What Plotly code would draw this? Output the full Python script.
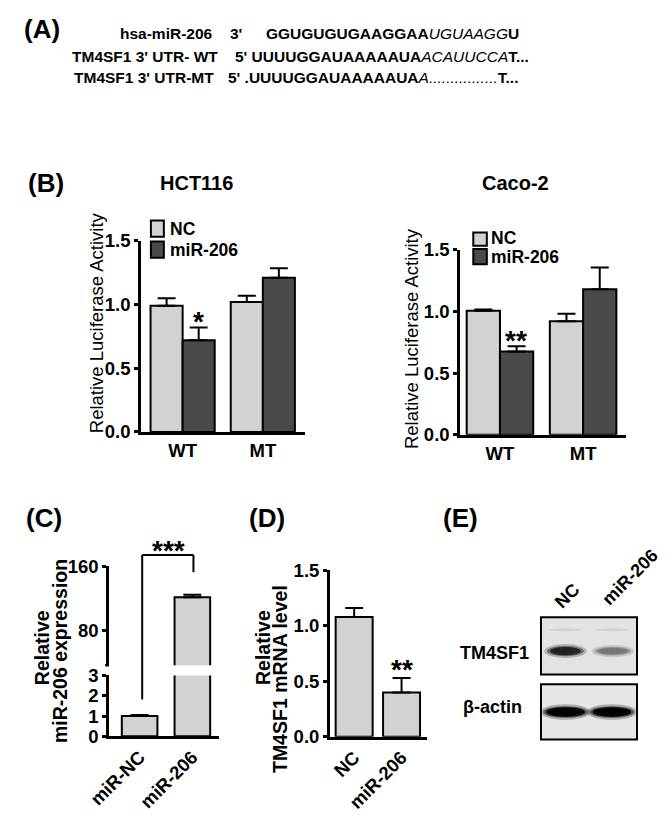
import plotly.graph_objects as go

W, H = 666, 817
def X(p): return p / W
def Y(p): return 1 - p / H

FONT = "Liberation Sans, Arial, sans-serif"
NC_COLOR = "#d2d2d2"
MIR_COLOR = "#4a4a4a"

# ---------------- data ----------------
groups_B = ["WT", "MT"]
hct_nc = [0.99, 1.02]
hct_nc_err = [0.06, 0.05]
hct_mir = [0.72, 1.21]
hct_mir_err = [0.10, 0.075]

caco_nc = [1.005, 0.92]
caco_nc_err = [0.01, 0.06]
caco_mir = [0.676, 1.18]
caco_mir_err = [0.042, 0.175]

cats_C = ["miR-NC", "miR-206"]
vals_C = [1.0, 121.2]
err_C = [0.05, 3.3]

cats_D = ["NC", "miR-206"]
vals_D = [1.08, 0.40]
err_D = [0.08, 0.13]

blot_lanes = ["NC", "miR-206"]
tm4sf1_intensity = [0.85, 0.45]
actin_intensity = [1.0, 1.0]

fig = go.Figure()

def eb(arr):
    return dict(type="data", array=arr, arrayminus=[0] * len(arr), symmetric=False,
                thickness=2, width=9, color="black")

line = dict(color="black", width=2)

# Panel B left
fig.add_trace(go.Bar(x=groups_B, y=hct_nc, error_y=eb(hct_nc_err), marker=dict(color=NC_COLOR, line=line),
                     offset=-0.4, width=0.4, xaxis="x", yaxis="y", name="NC"))
fig.add_trace(go.Bar(x=groups_B, y=hct_mir, error_y=eb(hct_mir_err), marker=dict(color=MIR_COLOR, line=line),
                     offset=0.0, width=0.4, xaxis="x", yaxis="y", name="miR-206"))
# Panel B right
fig.add_trace(go.Bar(x=groups_B, y=caco_nc, error_y=eb(caco_nc_err), marker=dict(color=NC_COLOR, line=line),
                     offset=-0.4, width=0.4, xaxis="x2", yaxis="y2", name="NC"))
fig.add_trace(go.Bar(x=groups_B, y=caco_mir, error_y=eb(caco_mir_err), marker=dict(color=MIR_COLOR, line=line),
                     offset=0.0, width=0.4, xaxis="x2", yaxis="y2", name="miR-206"))
# Panel C (broken axis: lower + upper)
fig.add_trace(go.Bar(x=cats_C, y=vals_C, error_y=eb(err_C), marker=dict(color=NC_COLOR, line=line),
                     width=0.675, xaxis="x3", yaxis="y3"))
fig.add_trace(go.Bar(x=cats_C, y=vals_C, error_y=eb(err_C), marker=dict(color=NC_COLOR, line=line),
                     width=0.675, xaxis="x3", yaxis="y4"))
# Panel D
fig.add_trace(go.Bar(x=cats_D, y=vals_D, error_y=eb(err_D), marker=dict(color=NC_COLOR, line=line),
                     width=0.78, xaxis="x5", yaxis="y5"))

tickfont = dict(family=FONT, size=18.5, color="black", weight="bold")
yax = dict(showline=True, linewidth=2.5, linecolor="black", ticks="outside", ticklen=4, tickwidth=2.5,
           tickcolor="black", showgrid=False, zeroline=False, tickfont=tickfont, fixedrange=True)
xax = dict(showline=True, linewidth=2.5, linecolor="black", ticks="", showgrid=False, zeroline=False,
           tickfont=tickfont, type="category", fixedrange=True)

fig.update_layout(
    width=W, height=H, margin=dict(l=0, r=0, t=0, b=0),
    paper_bgcolor="white", plot_bgcolor="rgba(0,0,0,0)",
    showlegend=False, barmode="group", font=dict(family=FONT, color="black"),
    xaxis=dict(xax, domain=[X(123), X(293)], range=[-0.52, 1.53], anchor="y"),
    yaxis=dict(yax, domain=[Y(432), Y(236)], range=[0, 1.5], dtick=0.5, tickformat=".1f", anchor="x"),
    xaxis2=dict(xax, domain=[X(453), X(625)], range=[-0.48, 1.52], anchor="y2"),
    yaxis2=dict(yax, domain=[Y(435), Y(245)], range=[0, 1.5], dtick=0.5, tickformat=".1f", anchor="x2"),
    xaxis3=dict(xax, domain=[X(90), X(204)], range=[-0.58, 1.51], anchor="y3", tickangle=-45),
    yaxis3=dict(yax, domain=[Y(744.5), Y(682)], range=[0, 3], tickvals=[0, 1, 2, 3], anchor="x3"),
    yaxis4=dict(yax, domain=[Y(671.5), Y(570)], range=[36, 160], tickvals=[80, 160], anchor="x3"),
    xaxis5=dict(xax, domain=[X(318.3), X(419)], range=[-0.514, 1.54], anchor="y5", tickangle=-45),
    yaxis5=dict(yax, domain=[Y(745), Y(574)], range=[0, 1.5], dtick=0.5, tickformat=".1f", anchor="x5"),
)

ann = []
def A(text, x, y, size, bold=True, xanchor="center", angle=0, yanchor="middle", pad=1):
    ann.append(dict(text=text, x=X(x), y=Y(y), xref="paper", yref="paper", showarrow=False,
                    xanchor=xanchor, yanchor=yanchor, textangle=angle, borderpad=pad,
                    font=dict(family=FONT, size=size, color="black", weight="bold" if bold else "normal")))

# Panel labels
A("(A)", 21, 18, 26)
A("(B)", 25, 177, 26)
A("(C)", 23, 520, 26)
A("(D)", 253, 520, 26)
A("(E)", 453, 520, 26)

# Panel A sequences
A("hsa-miR-206", 200, 23, 15.5, xanchor="right")
A("3'", 213, 23, 15.5, xanchor="left")
A("<b>GGUGUGUGAAGGAA</b><i>UGUAAGG</i><b>U</b>", 250, 23, 15.5, bold=False, xanchor="left")
A("TM4SF1 3' UTR- WT", 205, 47, 15.5, xanchor="right")
A("<b>5' UUUUGGAUAAAAAUA</b><i>ACAUUCCA</i><b>T...</b>", 218, 47, 15.5, bold=False, xanchor="left")
A("TM4SF1 3' UTR-MT", 201, 68, 15.5, xanchor="right")
A("<b>5' .UUUUGGAUAAAAAUA</b><i>A................</i><b>T...</b>", 211, 68, 15.5, bold=False, xanchor="left")

# Panel B titles & axis titles
A("HCT116", 180, 177, 20)
A("Caco-2", 510, 177, 20)
A("Relative Luciferase Activity", 77, 320, 18.5, bold=False, angle=-90)
A("Relative Luciferase Activity", 403, 336, 18.5, bold=False, angle=-90)

# Legends B
A("NC", 152, 223.3, 17.5, xanchor="left", pad=0)
A("miR-206", 152, 245, 17.5, xanchor="left", pad=0)
A("NC", 484, 233.5, 17.5, xanchor="left", pad=0)
A("miR-206", 484, 253, 17.5, xanchor="left", pad=0)

# Significance stars
A("*", 183, 319, 28)
A("**", 511, 338, 28)
A("**", 392.7, 676, 28)
A("***", 151.7, 554, 28)

# Panel C / D axis titles
A("Relative", 20.7, 654, 19.5, angle=-90)
A("miR-206 expression", 39.3, 657, 19.5, angle=-90)
A("Relative", 249, 653, 19.5, angle=-90)
A("TM4SF1 mRNA level", 267.5, 686, 19.5, angle=-90)

# Panel E labels
A("TM4SF1", 489, 659, 18)
A("β-actin", 487, 714, 18)
A(blot_lanes[0], 563.5, 600, 18, angle=-45)
A(blot_lanes[1], 629, 581, 18, angle=-45)

fig.update_layout(annotations=ann)

shapes = []
def rect(x0, y0, x1, y1, fill, lw=2, lc="black", layer="above"):
    shapes.append(dict(type="rect", xref="paper", yref="paper", x0=X(x0), x1=X(x1), y0=Y(y1), y1=Y(y0),
                       fillcolor=fill, line=dict(color=lc, width=lw), layer=layer))

# Legend boxes
rect(133.3, 215, 146.7, 231.7, NC_COLOR)
rect(133.3, 236.7, 146.7, 253.3, MIR_COLOR)
rect(466.7, 227.3, 480.7, 241, NC_COLOR)
rect(466.7, 244.3, 480.7, 260, MIR_COLOR)

# Significance bracket in C
def seg(x0, y0, x1, y1, w=2):
    shapes.append(dict(type="line", xref="paper", yref="paper", x0=X(x0), x1=X(x1), y0=Y(y0), y1=Y(y1),
                       line=dict(color="black", width=w)))
seg(124.3, 558.3, 177.3, 558.3)
seg(124.3, 558.3, 124.3, 706.7)
seg(177.3, 558.3, 177.3, 576)
# break tick at bottom of upper C axis
seg(86, 671.5, 90, 671.5, 2.5)

# Panel E blot
rect(536.7, 622.3, 636, 681, "#e3e3e3", lw=2)
rect(536.7, 691, 636, 747.7, "#e6e6e6", lw=2)

def ellipse(cx, cy, w, h, color, op):
    shapes.append(dict(type="circle", xref="paper", yref="paper", x0=X(cx - w / 2), x1=X(cx + w / 2),
                       y0=Y(cy + h / 2), y1=Y(cy - h / 2), fillcolor=color, opacity=op,
                       line=dict(width=0), layer="above"))

lane_x = [562, 611]
def band(cx, cy, w, h, intensity):
    g = int(round(215 * (1 - intensity)))
    col = f"rgb({g},{g},{g})"
    ellipse(cx, cy, w + 8, h + 6, col, 0.25)
    ellipse(cx, cy, w + 2, h + 2, col, 0.5)
    ellipse(cx, cy, w - 4, h, col, 0.9)
    ellipse(cx - 2, cy, w - 14, h * 0.7, col, 1.0)

# faint upper bands
for cx in lane_x:
    ellipse(cx, 635, 34, 3, "#c8c8c8", 0.7)
for cx, it in zip(lane_x, tm4sf1_intensity):
    band(cx, 657, 36, 5 + 4 * it, it)
for cx, it in zip(lane_x, actin_intensity):
    band(cx + (0 if cx == lane_x[0] else -1), 719.5, 44, 10, it)

fig.update_layout(shapes=shapes)
fig.write_html("out.html", config={"displayModeBar": False},
               post_script="document.body.style.margin='0';document.body.style.overflow='hidden';")
